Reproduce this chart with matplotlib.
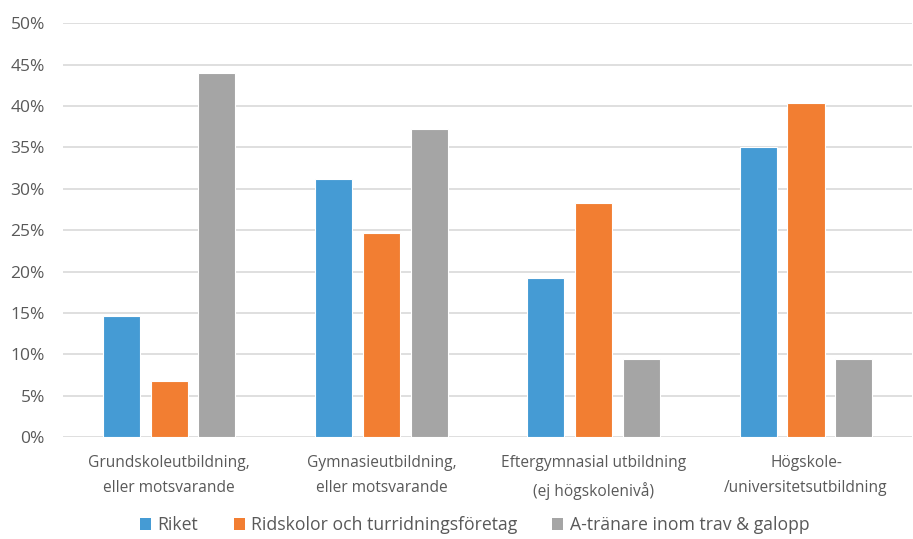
import matplotlib
matplotlib.use("Agg")
import matplotlib.pyplot as plt
import numpy as np
from matplotlib.patches import Patch

categories = ["Grundskoleutbildning,\neller motsvarande",
              "Gymnasieutbildning,\neller motsvarande",
              "Eftergymnasial utbildning\n(ej högskolenivå)",
              "Högskole-\n/universitetsutbildning"]
series_names = ["Riket", "Ridskolor och turridningsföretag", "A-tränare inom trav & galopp"]
riket = [14.6, 31.2, 19.2, 35.0]
ridskolor = [6.8, 24.6, 28.3, 40.3]
a_tranare = [44.0, 37.2, 9.4, 9.4]
yticks = [0, 5, 10, 15, 20, 25, 30, 35, 40, 45, 50]
colors = ["#459BD4", "#F27E32", "#A5A5A5"]

plt.rcParams['font.family'] = ['Open Sans', 'DejaVu Sans']
fig = plt.figure(figsize=(9.13, 5.39), dpi=100)
ax = fig.add_axes([0.069, 0.189, 0.93, 0.768])

x = np.arange(len(categories))
w = 0.175
pitch = 0.225
for i, (vals, c) in enumerate(zip([riket, ridskolor, a_tranare], colors)):
    ax.bar(x + (i - 1) * pitch, vals, width=w, color=c, edgecolor="white", linewidth=0.8, zorder=3)

ax.set_xlim(-0.5, len(categories) - 0.5)
ax.set_ylim(0, 50)
ax.set_yticks(yticks)
ax.set_yticklabels([f"{v}%" for v in yticks], fontsize=12.5, color="#595959")
ax.set_xticks(x)
ax.set_xticklabels(categories, fontsize=11.2, color="#595959", linespacing=1.75)
ax.tick_params(axis='y', length=0, pad=13)
ax.tick_params(axis='x', length=0, pad=13)
ax.grid(axis='y', color="#D9D9D9", linewidth=1.2, zorder=0)
for s in ax.spines.values():
    s.set_visible(False)

handles = [Patch(facecolor=c, edgecolor="none") for c in colors]
fig.legend(handles, series_names, loc="center", bbox_to_anchor=(0.52, 0.026), ncol=3,
           frameon=False, fontsize=12.7, handlelength=0.63, handleheight=0.63,
           columnspacing=2.0, handletextpad=0.35, labelcolor="#595959",
           borderpad=0.1)

fig.savefig("out.png", dpi=100)
